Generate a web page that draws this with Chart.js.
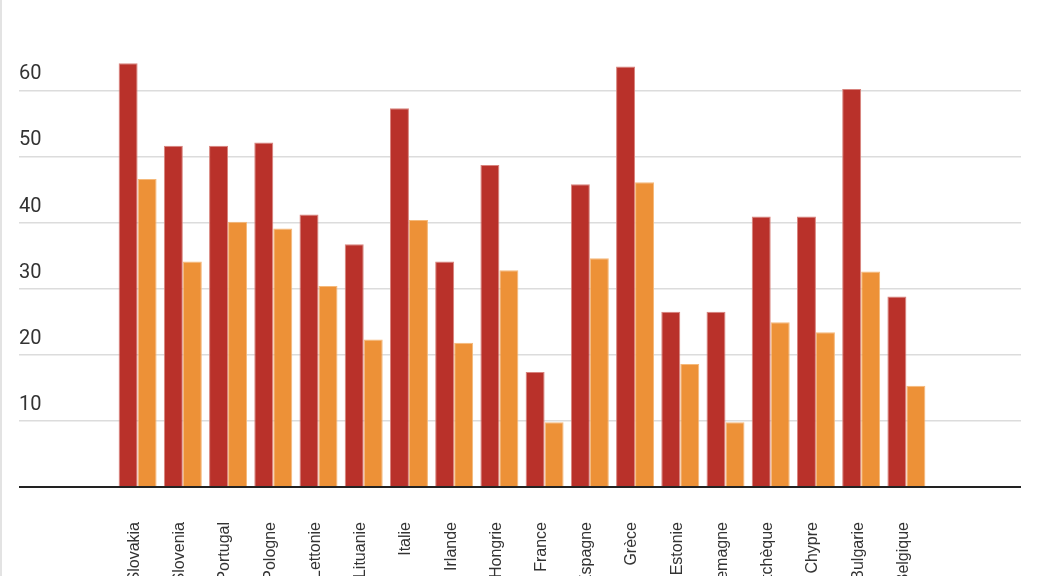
<!DOCTYPE html>
<html lang="fr">
<head>
<meta charset="utf-8">
<script src="https://cdn.jsdelivr.net/npm/chart.js@4.4.1/dist/chart.umd.min.js"></script>
<style>
    html, body { margin: 0; padding: 0; background: #fff; }
    #wrap { position: relative; width: 1038px; height: 576px; overflow: hidden; }
    #edge { position: absolute; left: 0; top: 0; width: 2px; height: 576px; background: #e3e3e3; }
</style>
</head>
<body>
<div id="wrap">
    <canvas id="barChart" width="1038" height="576"></canvas>
    <div id="edge"></div>
</div>
<script>
// ── Données ──
const pays = ['Slovakia', 'Slovenia', 'Portugal', 'Pologne', 'Lettonie', 'Lituanie', 'Italie', 'Irlande', 'Hongrie',
              'France', 'Espagne', 'Grèce', 'Estonie', 'Allemagne', 'Rép. tchèque', 'Chypre', 'Bulgarie', 'Belgique'];
const serie1 = [64.1, 51.6, 51.6, 52.1, 41.2, 36.7, 57.3, 34.1, 48.7, 17.4, 45.8, 63.6, 26.5, 26.5, 40.9, 40.9, 60.2, 28.8];
const serie2 = [46.6, 34.1, 40.1, 39.1, 30.4, 22.3, 40.4, 21.8, 32.8, 9.8, 34.6, 46.1, 18.6, 9.8, 24.9, 23.4, 32.6, 15.3];
const yTicks = [0, 10, 20, 30, 40, 50, 60];
const yMax = 67;

// ── Styles ──
const gridColor = ctx => (ctx.tick && ctx.tick.value === 0) ? '#222' : '#dcdcdc';
const gridWidth = ctx => (ctx.tick && ctx.tick.value === 0) ? 2 : 1.5;
const keepTicks = scale => {
    scale.ticks = yTicks.map(v => ({ value: v }));
};

new Chart(document.getElementById('barChart'), {
    type: 'bar',
    data: {
        labels: pays,
        datasets: [{
            label: 'Série 1',
            data: serie1,
            backgroundColor: '#b9312a',
            borderColor: '#d8837d',
            borderWidth: 1,
            yAxisID: 'y'
        }, {
            label: 'Série 2',
            data: serie2,
            backgroundColor: '#ed9137',
            borderColor: '#f5b97a',
            borderWidth: 1,
            yAxisID: 'y'
        }]
    },
    options: {
        responsive: false,
        animation: false,
        devicePixelRatio: 1,
        categoryPercentage: 0.84,
        barPercentage: 1,
        layout: { padding: { left: 19, right: 17, top: 44, bottom: 0 } },
        plugins: {
            legend: { display: false },
            tooltip: { enabled: false }
        },
        scales: {
            x: {
                grid: { display: false, drawTicks: false },
                border: { display: false },
                ticks: {
                    autoSkip: false,
                    minRotation: 90,
                    maxRotation: 90,
                    padding: 35,
                    labelOffset: -3,
                    color: '#333',
                    font: { family: 'Liberation Sans', size: 16 }
                },
                afterFit: s => { s.height = 89; }
            },
            y: {
                position: 'left',
                min: 0,
                max: yMax,
                afterBuildTicks: keepTicks,
                border: { display: false },
                grid: { color: gridColor, lineWidth: gridWidth, tickLength: 96 },
                ticks: {
                    crossAlign: 'far',
                    labelOffset: -16,
                    padding: 0,
                    color: '#333',
                    font: { family: 'Roboto', size: 20 },
                    callback: v => v === 0 ? '' : v
                },
                afterFit: s => { s.width = 96; }
            },
            y2: {
                position: 'right',
                min: 0,
                max: yMax,
                afterBuildTicks: keepTicks,
                border: { display: false },
                grid: { drawOnChartArea: false, color: gridColor, lineWidth: gridWidth, tickLength: 92 },
                ticks: { display: false },
                afterFit: s => { s.width = 92; }
            }
        }
    }
});
</script>
</body>
</html>
